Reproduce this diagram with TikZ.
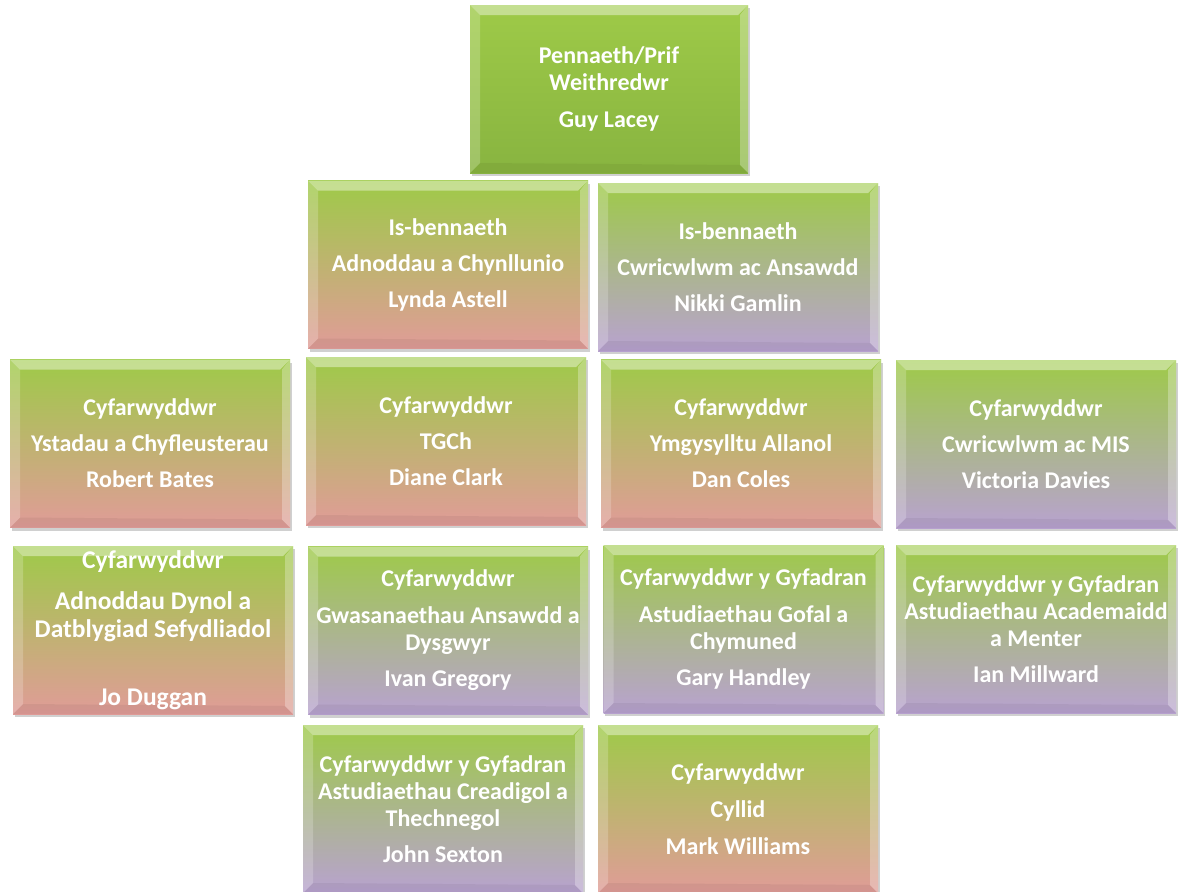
\documentclass[tikz,border=0pt]{standalone}
\usepackage{fontspec}
\setmainfont{Carlito}
\usetikzlibrary{shadows}
\definecolor{gtop}{RGB}{158,202,72}
\definecolor{gdark}{RGB}{136,180,64}
\definecolor{pinkb}{RGB}{224,156,152}
\definecolor{lavb}{RGB}{184,162,208}
\tikzset{
  orgbox/.style={minimum width=280pt, minimum height=168pt, inner sep=0pt, align=center,
    text=white, font=\fontsize{24}{27}\selectfont\bfseries,
    drop shadow={shadow xshift=1.5pt, shadow yshift=-3pt, opacity=0.3, fill=black!60},
    path picture={
      \fill[white,opacity=.40] (path picture bounding box.north west) -- (path picture bounding box.north east)
        -- ([xshift=-10pt,yshift=-10pt]path picture bounding box.north east) -- ([xshift=10pt,yshift=-10pt]path picture bounding box.north west) -- cycle;
      \fill[white,opacity=.20] (path picture bounding box.north west) -- (path picture bounding box.south west)
        -- ([xshift=10pt,yshift=10pt]path picture bounding box.south west) -- ([xshift=10pt,yshift=-10pt]path picture bounding box.north west) -- cycle;
      \fill[white,opacity=.28] (path picture bounding box.north east) -- (path picture bounding box.south east)
        -- ([xshift=-8pt,yshift=8pt]path picture bounding box.south east) -- ([xshift=-8pt,yshift=-10pt]path picture bounding box.north east) -- cycle;
      \fill[black,opacity=.05] (path picture bounding box.south west) -- (path picture bounding box.south east)
        -- ([xshift=-8pt,yshift=8pt]path picture bounding box.south east) -- ([xshift=10pt,yshift=10pt]path picture bounding box.south west) -- cycle;
    }},
  greenbox/.style={orgbox, top color=gtop, bottom color=gdark, minimum width=278pt},
  pinkbox/.style={orgbox, top color=gtop, bottom color=pinkb},
  lavbox/.style={orgbox, top color=gtop, bottom color=lavb}
}
\begin{document}
\begin{tikzpicture}[x=1pt,y=1pt]
\useasboundingbox (0,0) rectangle (1184,-892);
\clip (0,0) rectangle (1184,-892);
\fill[white] (0,0) rectangle (1184,-892);
% row 1
\node[greenbox] (head) at (609,-89) {Pennaeth/Prif\\Weithredwr\\[10pt]Guy Lacey};
% row 2
\node[pinkbox] (isa) at (448,-264.5) {Is-bennaeth\\[9pt]Adnoddau a Chynllunio\\[9pt]Lynda Astell};
\node[lavbox] (isb) at (738,-267) {Is-bennaeth\\[9pt]Cwricwlwm ac Ansawdd\\[9pt]Nikki Gamlin};
% row 3
\node[pinkbox] (ystad) at (150,-443.5) {Cyfarwyddwr\\[9pt]Ystadau a Chyfleusterau\\[9pt]Robert Bates};
\node[pinkbox] (tgch) at (446,-441) {Cyfarwyddwr\\[9pt]TGCh\\[9pt]Diane Clark};
\node[pinkbox] (ymgys) at (741,-443.5) {Cyfarwyddwr\\[9pt]Ymgysylltu Allanol\\[9pt]Dan Coles};
\node[lavbox] (cwric) at (1036,-444) {Cyfarwyddwr\\[9pt]Cwricwlwm ac MIS\\[9pt]Victoria Davies};
% row 4
\node[pinkbox, font=\fontsize{25.5}{28}\selectfont\bfseries] (adnod) at (153,-630) {Cyfarwyddwr\\[13pt]Adnoddau Dynol a\\Datblygiad Sefydliadol\\[40pt]Jo Duggan};
\node[lavbox] (gwas) at (448,-630.5) {Cyfarwyddwr\\[10pt]Gwasanaethau Ansawdd a\\Dysgwyr\\[9pt]Ivan Gregory};
\node[lavbox] (gofal) at (743.5,-629) {Cyfarwyddwr y Gyfadran\\[10pt]Astudiaethau Gofal a\\Chymuned\\[9pt]Gary Handley};
\node[lavbox] (acad) at (1036,-629) {Cyfarwyddwr y Gyfadran\\Astudiaethau Academaidd\\a Menter\\[9pt]Ian Millward};
% row 5
\node[lavbox] (creadig) at (443,-809) {Cyfarwyddwr y Gyfadran\\Astudiaethau Creadigol a\\Thechnegol\\[9pt]John Sexton};
\node[pinkbox] (cyllid) at (738,-809) {Cyfarwyddwr\\[10pt]Cyllid\\[10pt]Mark Williams};
\end{tikzpicture}
\end{document}
